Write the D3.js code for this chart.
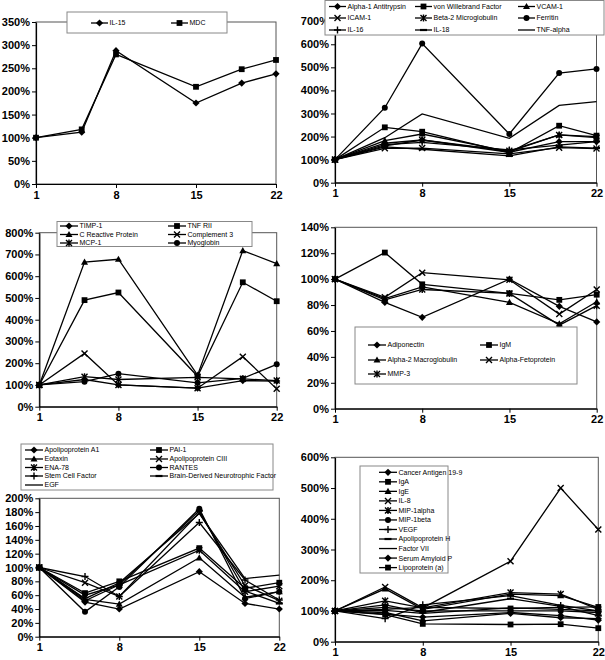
<!DOCTYPE html>
<html><head><meta charset="utf-8">
<script src="https://cdn.jsdelivr.net/npm/d3@7"></script>
<style>body{margin:0;background:#fff} svg{display:block}</style>
</head><body><svg id="c" width="605" height="660"></svg>
<script>
// ---------- DATA ----------
const days = [1, 5, 8, 15, 19, 22];
const dayTicks = [1, 8, 15, 22];
const markerCycle = ["diamond", "square", "triangle", "x", "star", "circle", "plus", "dash", "none"];

const p1Names = ["IL-15", "MDC"];
const p1Values = [
  [100, 112, 288, 175, 218, 238],
  [100, 118, 280, 210, 248, 268]
];
const p1Ticks = [0, 50, 100, 150, 200, 250, 300, 350];

const p2Names = ["Alpha-1 Antitrypsin", "von Willebrand Factor", "VCAM-1", "ICAM-1", "Beta-2 Microglobulin", "Ferritin", "IL-16", "IL-18", "TNF-alpha"];
const p2Values = [
  [100, 171, 185, 132, 178, 178],
  [100, 240, 221, 130, 247, 204],
  [100, 182, 211, 135, 207, 200],
  [100, 149, 150, 125, 152, 148],
  [100, 160, 185, 138, 207, 195],
  [100, 325, 603, 211, 475, 493],
  [100, 165, 175, 142, 163, 178],
  [100, 155, 145, 116, 155, 150],
  [100, 195, 298, 192, 335, 351]
];
const p2Ticks = [0, 100, 200, 300, 400, 500, 600, 700];

const p3Names = ["TIMP-1", "TNF RII", "C Reactive Protein", "Complement 3", "MCP-1", "Myoglobin"];
const p3Values = [
  [100, 125, 100, 85, 120, 118],
  [100, 490, 525, 140, 572, 485],
  [100, 665, 678, 145, 718, 658],
  [100, 245, 100, 85, 230, 82],
  [100, 138, 125, 135, 128, 120],
  [100, 115, 152, 110, 130, 195]
];
const p3Ticks = [0, 100, 200, 300, 400, 500, 600, 700, 800];

const p4Names = ["Adiponectin", "IgM", "Alpha-2 Macroglobulin", "Alpha-Fetoprotein", "MMP-3"];
const p4Values = [
  [100, 82, 70.5, 100, 79, 67],
  [100, 120.5, 96, 89, 84, 88],
  [100, 85, 94, 82, 65.5, 82.5],
  [100, 86, 105, 99.5, 73, 92],
  [100, 84, 92, 89, 64.5, 79.5]
];
const p4Ticks = [0, 20, 40, 60, 80, 100, 120, 140];

const p5Names = ["Apolipoprotein A1", "PAI-1", "Eotaxin", "Apolipoprotein CIII", "ENA-78", "RANTES", "Stem Cell Factor", "Brain-Derived Neurotrophic Factor", "EGF"];
const p5Values = [
  [100, 50, 40, 94, 48, 40],
  [100, 63, 80, 128, 70, 78],
  [100, 54, 47, 114, 57, 65],
  [100, 78, 58, 179, 74, 52],
  [100, 60, 75, 125, 65, 73],
  [100, 36, 72, 185, 55, 65],
  [100, 87, 58, 165, 82, 53],
  [100, 52, 75, 182, 66, 48],
  [100, 55, 78, 178, 84, 89]
];
const p5Ticks = [0, 20, 40, 60, 80, 100, 120, 140, 160, 180, 200];

const p6Names = ["Cancer Antigen 19-9", "IgA", "IgE", "IL-8", "MIP-1alpha", "MIP-1beta", "VEGF", "Apolipoprotein H", "Factor VII", "Serum Amyloid P", "Lipoprotein (a)"];
const p6Values = [
  [100, 90, 80, 95, 85, 70],
  [100, 88, 58, 56, 57, 44],
  [100, 172, 105, 155, 150, 112],
  [100, 178, 110, 262, 500, 365],
  [100, 133, 110, 160, 155, 105],
  [100, 112, 100, 100, 100, 95],
  [100, 75, 120, 150, 118, 100],
  [100, 120, 95, 140, 115, 85],
  [100, 102, 92, 110, 105, 100],
  [100, 95, 68, 92, 78, 75],
  [100, 105, 112, 108, 112, 113]
];
const p6Ticks = [0, 100, 200, 300, 400, 500, 600];

// ---------- DRAWING ----------
const svg = d3.select("#c");
const FONT = "'Liberation Sans', Arial, sans-serif";

function drawMarker(g, type, cx, cy) {
  const s = 1;
  if (type === "diamond") {
    g.append("path").attr("d", `M${cx},${cy-3.6}L${cx+3.6},${cy}L${cx},${cy+3.6}L${cx-3.6},${cy}Z`).attr("fill", "#000");
  } else if (type === "square") {
    g.append("rect").attr("x", cx-2.9).attr("y", cy-2.9).attr("width", 5.8).attr("height", 5.8).attr("fill", "#000");
  } else if (type === "triangle") {
    g.append("path").attr("d", `M${cx},${cy-3.6}L${cx+3.5},${cy+2.6}L${cx-3.5},${cy+2.6}Z`).attr("fill", "#000");
  } else if (type === "circle") {
    g.append("circle").attr("cx", cx).attr("cy", cy).attr("r", 3).attr("fill", "#000");
  } else if (type === "x") {
    g.append("path").attr("d", `M${cx-3},${cy-3}L${cx+3},${cy+3}M${cx-3},${cy+3}L${cx+3},${cy-3}`).attr("stroke", "#000").attr("stroke-width", 1.4);
  } else if (type === "star") {
    g.append("path").attr("d", `M${cx-3},${cy-3}L${cx+3},${cy+3}M${cx-3},${cy+3}L${cx+3},${cy-3}M${cx},${cy-3.5}L${cx},${cy+3.5}`).attr("stroke", "#000").attr("stroke-width", 1.4);
  } else if (type === "plus") {
    g.append("path").attr("d", `M${cx-3.5},${cy}L${cx+3.5},${cy}M${cx},${cy-3.5}L${cx},${cy+3.5}`).attr("stroke", "#000").attr("stroke-width", 1.4);
  } else if (type === "dash") {
    g.append("path").attr("d", `M${cx-3.5},${cy}L${cx+3.5},${cy}`).attr("stroke", "#000").attr("stroke-width", 2.2);
  }
}

function panel(cfg) {
  const x = d3.scaleLinear().domain([1, 22]).range([cfg.x0, cfg.x1]);
  const y = d3.scaleLinear().domain([0, cfg.ticks[cfg.ticks.length - 1]]).range([cfg.yb, cfg.yt]);
  const g = svg.append("g");

  g.append("rect").attr("x", cfg.x0).attr("y", cfg.yt)
    .attr("width", cfg.x1 - cfg.x0).attr("height", cfg.yb - cfg.yt)
    .attr("fill", "none").attr("stroke", "#555").attr("stroke-width", 1);

  const ya = g.append("g").attr("transform", `translate(${cfg.x0},0)`)
    .call(d3.axisLeft(y).tickValues(cfg.ticks).tickFormat(d => d + "%").tickSize(4).tickPadding(2).tickSizeOuter(0));
  const xa = g.append("g").attr("transform", `translate(0,${cfg.yb})`)
    .call(d3.axisBottom(x).tickValues(dayTicks).tickFormat(d3.format("d")).tickSize(4).tickPadding(3).tickSizeOuter(0));
  [ya, xa].forEach(a => {
    a.selectAll("path.domain").attr("stroke", "#000").attr("stroke-width", 1.2);
    a.selectAll("line").attr("stroke", "#000");
    a.selectAll("text").attr("font-family", FONT).attr("font-size", 11).attr("font-weight", "bold").attr("fill", "#000");
  });

  const line = d3.line().x((d, i) => x(days[i])).y(d => y(d));
  cfg.values.forEach((vals, si) => {
    const sg = g.append("g");
    sg.append("path").attr("d", line(vals)).attr("fill", "none").attr("stroke", "#000").attr("stroke-width", 1.3);
    const m = markerCycle[si % markerCycle.length];
    vals.forEach((v, i) => drawMarker(sg, m, x(days[i]), y(v)));
  });

  // legend
  const L = cfg.legend;
  const lg = g.append("g");
  lg.append("rect").attr("x", L.x).attr("y", L.y).attr("width", L.w).attr("height", L.h)
    .attr("fill", "#fff").attr("stroke", "#888").attr("stroke-width", 1);
  cfg.names.forEach((name, i) => {
    const col = i % L.cols.length, row = Math.floor(i / L.cols.length);
    const cx = L.cols[col], cy = L.rows[row];
    lg.append("path").attr("d", `M${cx},${cy}L${cx + L.sym},${cy}`).attr("stroke", "#000").attr("stroke-width", 1.3);
    drawMarker(lg, markerCycle[i % markerCycle.length], cx + L.sym / 2, cy);
    lg.append("text").attr("x", cx + L.sym + 1.5).attr("y", cy).attr("dy", "0.35em")
      .attr("font-family", FONT).attr("font-size", 7).attr("fill", "#000").text(name);
  });
}

panel({ names: p1Names, values: p1Values, ticks: p1Ticks, x0: 36, x1: 276, yt: 22, yb: 184,
  legend: { x: 67, y: 12, w: 160, h: 21, cols: [91, 171], rows: [23], sym: 17 } });

panel({ names: p2Names, values: p2Values, ticks: p2Ticks, x0: 335, x1: 596.5, yt: 21.2, yb: 182.7,
  legend: { x: 325, y: 0.5, w: 279, h: 34.5, cols: [329, 415, 518], rows: [6.5, 18, 30], sym: 17 } });

panel({ names: p3Names, values: p3Values, ticks: p3Ticks, x0: 39.3, x1: 276.7, yt: 232.7, yb: 406.7,
  legend: { x: 57, y: 221.5, w: 195, h: 25, cols: [60, 168], rows: [226, 234.5, 243], sym: 18 } });

panel({ names: p4Names, values: p4Values, ticks: p4Ticks, x0: 335, x1: 596.7, yt: 227.3, yb: 408.7,
  legend: { x: 355, y: 327, w: 222, h: 57, cols: [368, 480], rows: [345, 360, 374], sym: 18 } });

panel({ names: p5Names, values: p5Values, ticks: p5Ticks, x0: 39.3, x1: 279.3, yt: 498.3, yb: 636.7,
  legend: { x: 21, y: 444, w: 252, h: 46, cols: [25, 150], rows: [450, 459, 467.5, 476, 485], sym: 18 } });

panel({ names: p6Names, values: p6Values, ticks: p6Ticks, x0: 335, x1: 598.3, yt: 457.3, yb: 641.7,
  legend: { x: 360, y: 466, w: 88, h: 107, cols: [379], rows: d3.range(11).map(i => 472.3 + i * 9.53), sym: 18 } });
</script></body></html>
